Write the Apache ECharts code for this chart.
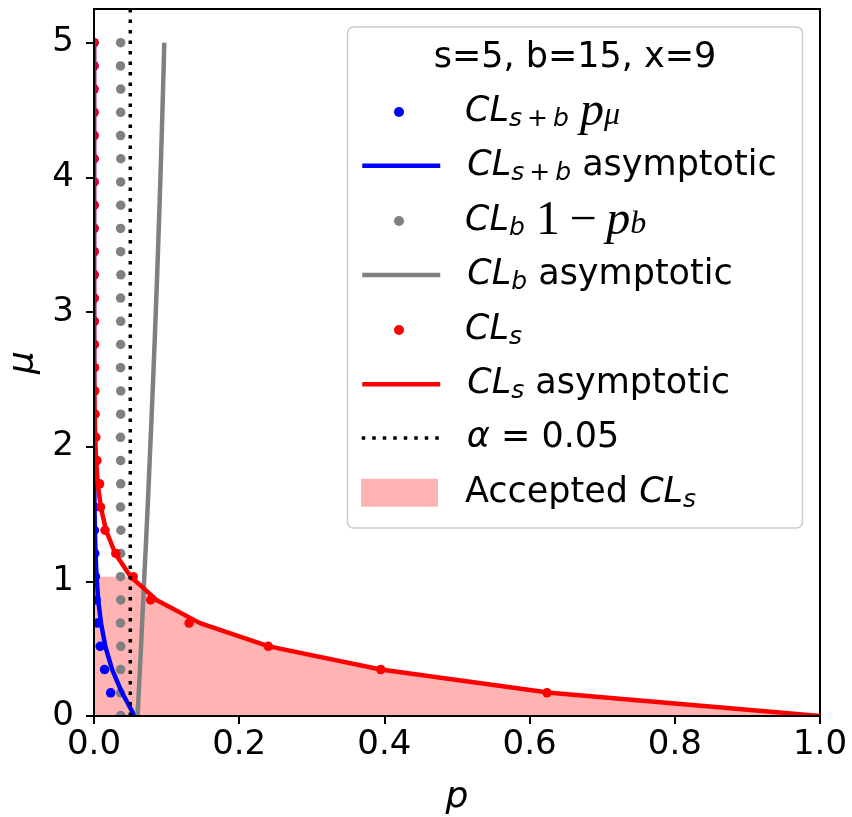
<!DOCTYPE html>
<html><head><meta charset="utf-8">
<script src="https://cdn.jsdelivr.net/npm/echarts@6/dist/echarts.min.js"></script>
<style>html,body{margin:0;padding:0;background:#fff}#c{width:852px;height:817px}</style>
</head><body><div id="c"></div><script>
// ---- data ----
const mu = [0, 0.1724, 0.3448, 0.5172, 0.6897, 0.8621, 1.0345, 1.2069, 1.3793, 1.5517, 1.7241, 1.8966, 2.069, 2.2414, 2.4138, 2.5862, 2.7586, 2.931, 3.1034, 3.2759, 3.4483, 3.6207, 3.7931, 3.9655, 4.1379, 4.3103, 4.4828, 4.6552, 4.8276, 5.0];
const clsbToys = [0.0368, 0.0229, 0.0145, 0.0085, 0.0050, 0.0030, 0.0020, 0.0011, 0.0006, 0.0003, 0.0003, 0.0002, 0.0001, 0.0001, 0.0001, 0, 0, 0, 0, 0, 0, 0, 0, 0, 0, 0, 0, 0, 0, 0];
const clsbAsym = [0.0560, 0.0387, 0.0250, 0.0156, 0.0097, 0.0058, 0.0035, 0.0021, 0.0012, 0.0007, 0.0004, 0.0002, 0.0001, 0.0001, 0, 0, 0, 0, 0, 0, 0, 0, 0, 0, 0, 0, 0, 0, 0, 0];
const clbToys = [0.0368, 0.0366, 0.0367, 0.0369, 0.0365, 0.0368, 0.0366, 0.0367, 0.0370, 0.0366, 0.0368, 0.0367, 0.0365, 0.0368, 0.0369, 0.0366, 0.0367, 0.0368, 0.0366, 0.0370, 0.0367, 0.0366, 0.0368, 0.0367, 0.0369, 0.0366, 0.0367, 0.0368, 0.0365, 0.0367];
const clbAsym = [0.0600, 0.0616, 0.0632, 0.0648, 0.0663, 0.0678, 0.0693, 0.0709, 0.0724, 0.0739, 0.0753, 0.0767, 0.0781, 0.0795, 0.0808, 0.0821, 0.0834, 0.0846, 0.0858, 0.0870, 0.0881, 0.0892, 0.0903, 0.0913, 0.0923, 0.0933, 0.0942, 0.0951, 0.0960, 0.0968];
const clsToys = [null, 0.624, 0.395, 0.240, 0.131, 0.078, 0.054, 0.030, 0.0152, 0.0090, 0.0078, 0.0040, 0.0025, 0.0015, 0.0010, 0.0008, 0.0006, 0.0005, 0.0004, 0.0003, 0.0003, 0.0002, 0.0002, 0.0001, 0.0001, 0.0001, 0, 0, 0, 0];
const clsAsym = [1.0, 0.628, 0.395, 0.241, 0.146, 0.0860, 0.0505, 0.0292, 0.0166, 0.0093, 0.0052, 0.0029, 0.0016, 0.0009, 0.0005, 0.0003, 0.0002, 0.0001, 0.0001, 0, 0, 0, 0, 0, 0, 0, 0, 0, 0, 0];
const alpha = 0.05;
const xTicks = [0, 0.2, 0.4, 0.6, 0.8, 1.0];
const xTickLabels = ['0.0', '0.2', '0.4', '0.6', '0.8', '1.0'];
const yTicks = [0, 1, 2, 3, 4, 5];
const yTickLabels = ['0', '1', '2', '3', '4', '5'];
const legendTitle = 's=5, b=15, x=9';
const names = ['CLs+b pμ', 'CLs+b asymptotic', 'CLb 1−pb', 'CLb asymptotic', 'CLs', 'CLs asymptotic', 'α = 0.05', 'Accepted CLs'];

// ---- build ----
const F = 'DejaVu Sans';
const SER = 'Liberation Serif';
const pairs = arr => mu.map((m, i) => [arr[i], m]).filter(p => p[0] !== null);
const accIdx = mu.map((m, i) => i).filter(i => clsAsym[i] >= alpha);
const accTop = Math.max(...accIdx.map(i => mu[i]));
const fillPoly = [[0, 0], [0, accTop]].concat(accIdx.slice().reverse().map(i => [clsAsym[i], mu[i]]));

const labelMap = {};
labelMap[names[0]] = '{it|CL}{subi|s}{sub|\u2009+\u2009}{subi|b} {sp|p}{spsub|μ}';
labelMap[names[1]] = '{it|CL}{subi|s}{sub|\u2009+\u2009}{subi|b} asymptotic';
labelMap[names[2]] = '{it|CL}{subi|b} {sr|1\u2009\u2212\u2009}{sp|p}{spsub|b}';
labelMap[names[3]] = '{it|CL}{subi|b} asymptotic';
labelMap[names[4]] = '{it|CL}{subi|s}';
labelMap[names[5]] = '{it|CL}{subi|s} asymptotic';
labelMap[names[6]] = '{it|α} = 0.05';
labelMap[names[7]] = 'Accepted {it|CL}{subi|s}';

const rich = {
  it: {fontFamily: F, fontStyle: 'italic', fontSize: 35, lineHeight: 40},
  subi: {fontFamily: F, fontStyle: 'italic', fontSize: 25, lineHeight: 26, verticalAlign: 'bottom'},
  sub: {fontFamily: F, fontSize: 25, lineHeight: 26, verticalAlign: 'bottom'},
  sp: {fontFamily: SER, fontStyle: 'italic', fontSize: 48, lineHeight: 40},
  spsub: {fontFamily: SER, fontStyle: 'italic', fontSize: 32, lineHeight: 24, verticalAlign: 'bottom'},
  sr: {fontFamily: SER, fontSize: 48, lineHeight: 40}
};
const legendText = {fontFamily: F, fontSize: 35, color: '#000', lineHeight: 40, padding: [0, 0, 0, 22], rich: rich};
const lineIcon = (c, extra) => ({itemStyle: {opacity: 0}, lineStyle: Object.assign({color: c, width: 4.5, opacity: 1}, extra || {})});

// legend rows (one legend per row so each row sits exactly where the reference has it)
const legendItems = [
  {name: names[0], icon: 'circle', itemStyle: {opacity: 1}},
  Object.assign({name: names[1]}, lineIcon('#0000ff')),
  {name: names[2], icon: 'circle', itemStyle: {opacity: 1}},
  Object.assign({name: names[3]}, lineIcon('#808080')),
  {name: names[4], icon: 'circle', itemStyle: {opacity: 1}},
  Object.assign({name: names[5]}, lineIcon('#ff0000')),
  Object.assign({name: names[6]}, lineIcon('#000000', {width: 3.5, type: [3.5, 7], cap: 'butt'})),
  {name: names[7], icon: 'rect'}
];
const rowCenters = [111, 165.7, 220.5, 275, 330, 384.3, 438, 492.7];
const rowTop = [-23, -20, -23.5, -20, -20, -20, -20, -20];
const isDot = [true, false, true, false, true, false, false, false];
const legends = legendItems.map((it, k) => ({
  orient: 'vertical', left: isDot[k] ? 394 : (k === 7 ? 361 : 360), top: rowCenters[k] + rowTop[k], padding: 0,
  itemWidth: k === 7 ? 77 : 78, itemHeight: k === 7 ? 28 : 10, z: 8, selectedMode: false,
  data: [it], formatter: n => labelMap[n], textStyle: legendText
}));

const chart = echarts.init(document.getElementById('c'), null, {renderer: 'canvas'});
chart.setOption({
  animation: false,
  backgroundColor: '#fff',
  grid: {left: 94, right: 32, top: 9, bottom: 101, show: true, borderColor: '#000', borderWidth: 2,
    backgroundColor: 'transparent', outerBoundsMode: 'none', containLabel: false},
  xAxis: {
    type: 'value', min: 0, max: 1, interval: 0.2, z: 10,
    axisLine: {show: true, onZero: false, lineStyle: {color: '#000', width: 2}},
    axisTick: {show: true, length: 8, customValues: xTicks, lineStyle: {color: '#000', width: 2}},
    axisLabel: {customValues: xTicks, margin: 12, fontFamily: F, fontSize: 34, color: '#000',
      formatter: v => xTickLabels[xTicks.findIndex(t => Math.abs(t - v) < 1e-9)]},
    splitLine: {show: false},
    name: 'p', nameLocation: 'middle', nameGap: 64,
    nameTextStyle: {fontFamily: F, fontStyle: 'italic', fontSize: 36, color: '#000'}
  },
  yAxis: {
    type: 'value', min: 0, max: 5.25, interval: 1, z: 10,
    axisLine: {show: true, onZero: false, lineStyle: {color: '#000', width: 2}},
    axisTick: {show: true, length: 8, customValues: yTicks, lineStyle: {color: '#000', width: 2}},
    axisLabel: {customValues: yTicks, margin: 20, fontFamily: F, fontSize: 34, color: '#000',
      formatter: v => yTickLabels[yTicks.findIndex(t => Math.abs(t - v) < 1e-9)]},
    splitLine: {show: false},
    name: 'μ', nameLocation: 'middle', nameGap: 52, nameRotate: 90,
    nameTextStyle: {fontFamily: F, fontStyle: 'italic', fontSize: 36, color: '#000'}
  },
  legend: legends,
  graphic: [
    {type: 'rect', z: 6, shape: {x: 347.5, y: 27, width: 455, height: 501, r: 6},
      style: {fill: 'rgba(255,255,255,0.8)', stroke: '#cccccc', lineWidth: 1.5}},
    {type: 'text', z: 8, x: 575, y: 58,
      style: {text: legendTitle, fontFamily: F, fontSize: 35, fill: '#000', align: 'center', verticalAlign: 'middle'}},
    {type: 'rect', z: 5, shape: {x: 76, y: 2, width: 17, height: 724}, style: {fill: '#fff'}},
    {type: 'rect', z: 5, shape: {x: 76, y: 717, width: 760, height: 11}, style: {fill: '#fff'}}
  ],
  series: [
    {name: names[7], type: 'custom', data: [[0, 0]], itemStyle: {color: '#ffb3b3'},
      renderItem: (params, api) => ({type: 'polygon', shape: {points: fillPoly.map(p => api.coord(p))}, style: {fill: '#ffb3b3'}})},
    {name: names[0], type: 'scatter', data: pairs(clsbToys), symbolSize: 9.5, itemStyle: {color: '#0000ff', opacity: 1}},
    {name: names[1], type: 'line', data: pairs(clsbAsym), symbol: 'none', lineStyle: {color: '#0000ff', width: 4.5}, itemStyle: {color: '#0000ff'}},
    {name: names[2], type: 'scatter', data: pairs(clbToys), symbolSize: 9.5, itemStyle: {color: '#808080', opacity: 1}},
    {name: names[3], type: 'line', data: pairs(clbAsym), symbol: 'none', lineStyle: {color: '#808080', width: 4.5}, itemStyle: {color: '#808080'}},
    {name: names[4], type: 'scatter', data: pairs(clsToys), symbolSize: 9.5, itemStyle: {color: '#ff0000', opacity: 1}},
    {name: names[5], type: 'line', data: pairs(clsAsym), symbol: 'none', lineStyle: {color: '#ff0000', width: 4.5}, itemStyle: {color: '#ff0000'}},
    {name: names[6], type: 'line', data: [[alpha, 0], [alpha, 5.25]], symbol: 'none',
      lineStyle: {color: '#000', width: 3.5, type: [3.5, 7], cap: 'butt'}, itemStyle: {color: '#000'}}
  ]
});
</script></body></html>
